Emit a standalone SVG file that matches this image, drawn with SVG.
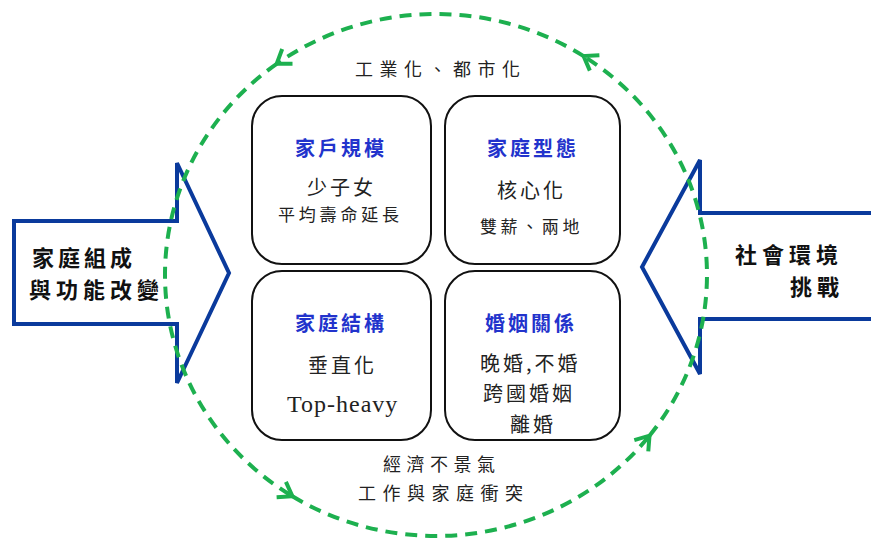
<svg xmlns="http://www.w3.org/2000/svg" width="871" height="539" viewBox="0 0 871 539">
<defs>
<style>
text{font-family:"Noto Sans CJK TC","Liberation Serif",serif;fill:#222}
.t{font-size:20px;font-weight:bold;fill:#2233cc;letter-spacing:3px}
.b{font-size:20px;letter-spacing:3px}
.s{font-size:17px;letter-spacing:3.8px}
.big{font-size:22px;font-weight:bold;fill:#111}
.lab{font-size:18px;letter-spacing:6.5px}
.box{fill:#fff;stroke:#111;stroke-width:2}
.arr{fill:#fff;stroke:#0a3a9c;stroke-width:4;stroke-linejoin:miter}
.cyc{fill:none;stroke:#1db04f;stroke-width:4;stroke-dasharray:12 8}
</style>
<marker id="chev" markerUnits="userSpaceOnUse" markerWidth="34" markerHeight="34" refX="17" refY="17" orient="auto">
<path d="M4 8 L17 17 L4 26" fill="none" stroke="#1db04f" stroke-width="4"/>
</marker>
</defs>

<g id="left-arrow">
<polygon class="arr" points="14,221 177,221 177,163 229,273 177,383 177,324 14,324"/>
<text class="big" x="32" y="266" style="letter-spacing:4px">家庭組成</text>
<text class="big" x="29" y="298" style="letter-spacing:5px">與功能改變</text>
</g>

<g id="right-arrow">
<polygon class="arr" points="875,213 700,213 700,160 642,267 700,374 700,319 875,319"/>
<text class="big" x="735" y="263" style="letter-spacing:5px">社會環境</text>
<text class="big" x="790" y="295" style="letter-spacing:5px">挑戰</text>
</g>

<g id="connectors">
<path class="cyc" marker-end="url(#chev)" d="M583.6,56.1 A271,261 0 0 0 276.7,63.8"/>
<path class="cyc" marker-end="url(#chev)" d="M276.7,63.8 A271,261 0 0 0 292.4,496.3"/>
<path class="cyc" marker-end="url(#chev)" d="M292.4,496.3 A271,261 0 0 0 649.5,435.7"/>
<path class="cyc" marker-end="url(#chev)" d="M649.5,435.7 A271,261 0 0 0 583.6,56.1"/>
</g>

<g id="top-label">
<text class="lab" x="355" y="76">工業化、都市化</text>
</g>

<g id="bottom-label">
<text class="lab" x="383" y="471" style="letter-spacing:5.5px">經濟不景氣</text>
<text class="lab" x="358" y="500">工作與家庭衝突</text>
</g>

<g id="box-household-size">
<rect class="box" x="252" y="96" width="179" height="168" rx="30"/>
<text class="t" x="295" y="156">家戶規模</text>
<text class="b" x="307" y="195">少子女</text>
<text class="s" x="278" y="221">平均壽命延長</text>
</g>

<g id="box-family-type">
<rect class="box" x="445" y="96" width="175" height="168" rx="30"/>
<text class="t" x="487" y="156">家庭型態</text>
<text class="b" x="497" y="198">核心化</text>
<text class="s" x="480" y="233" style="letter-spacing:3.6px">雙薪、兩地</text>
</g>

<g id="box-family-structure">
<rect class="box" x="252" y="271" width="179" height="169" rx="30"/>
<text class="t" x="295" y="331">家庭結構</text>
<text class="b" x="308" y="373">垂直化</text>
<text x="287" y="412" style="font-family:'Liberation Serif',serif;font-size:24px;letter-spacing:1px">Top-heavy</text>
</g>

<g id="box-marriage">
<rect class="box" x="445" y="271" width="175" height="169" rx="30"/>
<text class="t" x="485" y="331">婚姻關係</text>
<text class="b" x="480" y="371">晚婚,不婚</text>
<text class="b" x="483" y="401">跨國婚姻</text>
<text class="b" x="510" y="432">離婚</text>
</g>
</svg>
